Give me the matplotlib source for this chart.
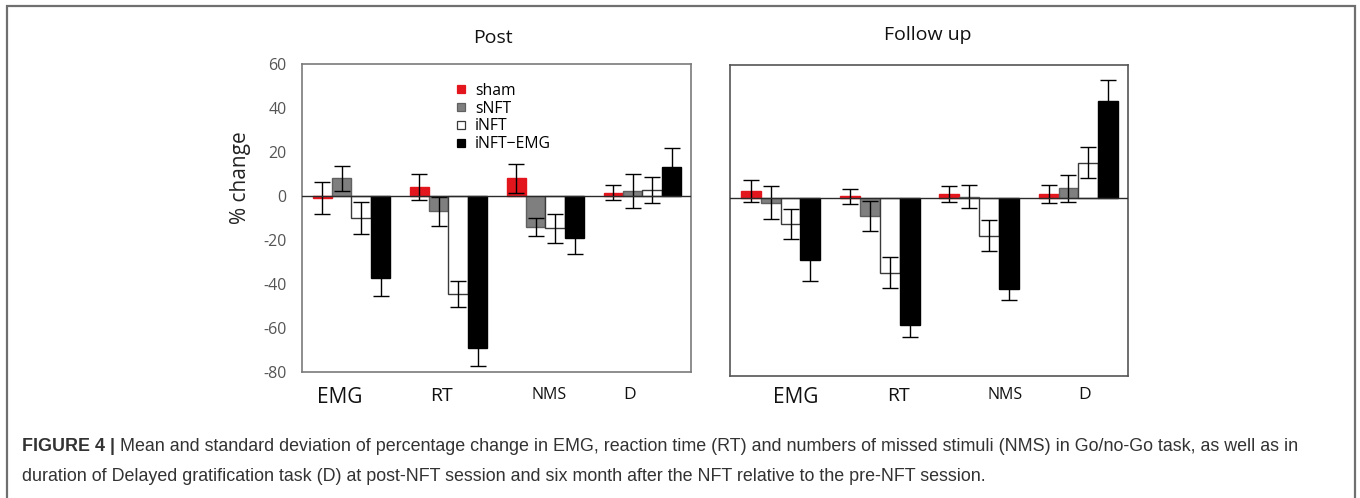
import numpy as np
import matplotlib.pyplot as plt
from matplotlib.lines import Line2D
from matplotlib.patches import Rectangle

# ---- data ----
measures = ['EMG', 'RT', 'NMS', 'D']
groups = ['sham', 'sNFT', 'iNFT', 'iNFT\u2212EMG']

post_mean = {
    'sham':     [-1, 4, 8, 1.5],
    'sNFT':     [8, -7, -14, 2.3],
    'iNFT':     [-10, -44.5, -14.7, 2.6],
    'iNFT-EMG': [-37.4, -69, -19, 13.3],
}
post_err = {
    'sham':     [7.3, 6, 6.5, 3.4],
    'sNFT':     [5.5, 6.5, 4, 7.8],
    'iNFT':     [7.3, 6, 6.5, 6],
    'iNFT-EMG': [8, 8.3, 7.5, 8.7],
}
follow_mean = {
    'sham':     [3.3, 1, 2, 1.9],
    'sNFT':     [-2, -8, 0.7, 4.5],
    'iNFT':     [-11.7, -33.5, -16.8, 16],
    'iNFT-EMG': [-28, -57, -40.7, 44],
}
follow_err = {
    'sham':     [5, 3.4, 3.7, 4.2],
    'sNFT':     [7.5, 6.7, 5.2, 6],
    'iNFT':     [6.7, 7, 7, 7],
    'iNFT-EMG': [9.3, 5.3, 5.3, 9.3],
}

keys = ['sham', 'sNFT', 'iNFT', 'iNFT-EMG']
fills = ['#e3161e', '#7f7f7f', 'white', 'black']
edges = ['#e3161e', '#606060', '#3a3a3a', 'black']
label_sizes = [15, 14, 11.5, 12.5]

# the category labels in the original sit a bit off the group centres
post_lab_shift = [-0.12, -0.07, 0.04, -0.13]
follow_lab_shift = [0.15, 0.19, 0.26, 0.06]

plt.rcParams['font.family'] = ['Open Sans', 'DejaVu Sans']
plt.rcParams['axes.unicode_minus'] = False

fig = plt.figure(figsize=(13.6, 4.98), dpi=100)

# outer frame of the figure panel
fig.patches.append(Rectangle((7 / 1360, -0.05), 1348 / 1360, 1.05 - 6 / 498,
                             transform=fig.transFigure, fill=False,
                             edgecolor='#6f6f6f', lw=1.6))

ax1 = fig.add_axes([302 / 1360, 1 - 372 / 498, 389 / 1360, 308 / 498])
ax2 = fig.add_axes([730 / 1360, 1 - 376 / 498, 398 / 1360, 311 / 498])


def draw(ax, means, errs, frame_col, lab_pad, lab_shift):
    x = np.arange(len(measures))
    w = 0.2
    for i, k in enumerate(keys):
        pos = x + (i - 1.5) * w
        ax.bar(pos, means[k], width=w, color=fills[i], edgecolor=edges[i],
               linewidth=1, zorder=2)
        ax.errorbar(pos, means[k], yerr=errs[k], fmt='none', ecolor='black',
                    elinewidth=1, capsize=6, capthick=1, zorder=3)
    ax.axhline(0, color='#2a2a2a', lw=1, zorder=4)
    ax.set_xlim(-0.51, 3.5)
    ax.set_ylim(-80, 60)
    ax.set_xticks(x + np.array(lab_shift))
    ax.set_xticklabels(measures)
    for lab, s in zip(ax.get_xticklabels(), label_sizes):
        lab.set_fontsize(s)
        lab.set_color('#111111')
    ax.tick_params(axis='x', length=0, pad=lab_pad)
    for sp in ax.spines.values():
        sp.set_color(frame_col)
        sp.set_linewidth(1.2)


draw(ax1, post_mean, post_err, '#7a7a7a', 11, post_lab_shift)
draw(ax2, follow_mean, follow_err, '#555555', 8, follow_lab_shift)

ax1.set_yticks(np.arange(-80, 61, 20))
ax1.tick_params(axis='y', length=0, pad=11, labelsize=11.5, labelcolor='#555555')
ax1.set_ylabel('% change', fontsize=15, color='#222222')
ax1.yaxis.set_label_coords(-0.13, 0.63)
ax2.set_yticks([])

handles = [Line2D([], [], ls='none', marker='s', markersize=6,
                  markerfacecolor=fills[i], markeredgecolor=edges[i],
                  markeredgewidth=0.9) for i in range(4)]
ax1.legend(handles, groups, loc='upper left', bbox_to_anchor=(0.372, 0.965),
           frameon=False, fontsize=11.3, handlelength=0.8, handletextpad=0.5,
           labelspacing=0.12, borderpad=0)

fig.text(493 / 1360, 1 - 38 / 498, 'Post', ha='center', va='center',
         fontsize=14, color='#111111')
fig.text(928 / 1360, 1 - 35 / 498, 'Follow up', ha='center', va='center',
         fontsize=14, color='#111111')

# caption
cap_font = ['Liberation Sans', 'DejaVu Sans']
t = fig.text(22 / 1360, 1 - 446 / 498, 'FIGURE 4 |', fontsize=12.9,
             fontweight='bold', color='#333333', family=cap_font, va='center')
fig.canvas.draw()
bb = t.get_window_extent()
fig.text((bb.x1 + 5) / 1360, 1 - 446 / 498,
         'Mean and standard deviation of percentage change in EMG, reaction time (RT) '
         'and numbers of missed stimuli (NMS) in Go/no-Go task, as well as in',
         fontsize=12.9, color='#333333', family=cap_font, va='center')
fig.text(22 / 1360, 1 - 476 / 498,
         'duration of Delayed gratification task (D) at post-NFT session and six month '
         'after the NFT relative to the pre-NFT session.',
         fontsize=12.9, color='#333333', family=cap_font, va='center')

fig.savefig('out.png', dpi=100, facecolor='white')
